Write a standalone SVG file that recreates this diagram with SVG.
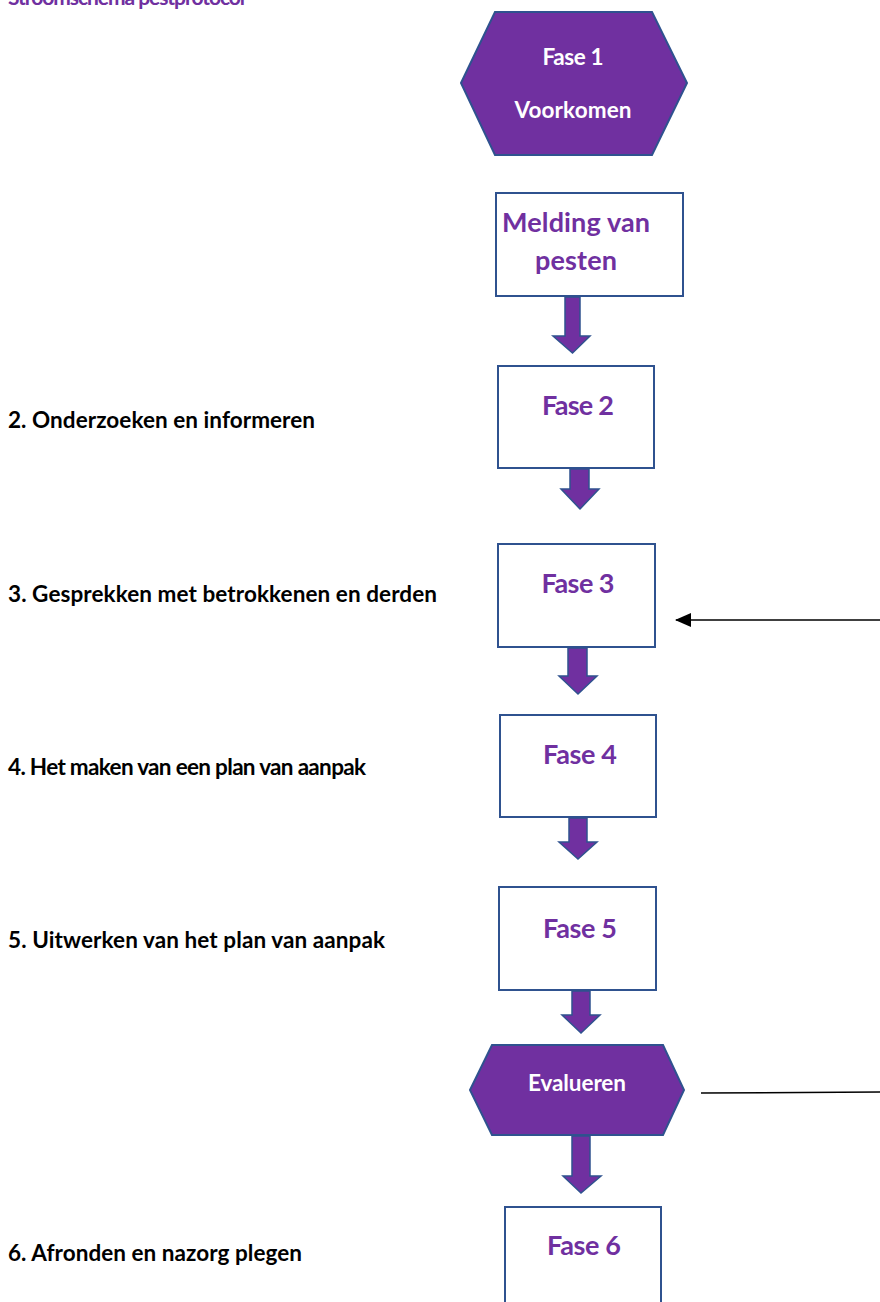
<svg xmlns="http://www.w3.org/2000/svg" width="880" height="1302" viewBox="0 0 880 1302">
<style>
text{font-family:Lato,"Liberation Sans",sans-serif;font-weight:bold}
.lbl{font-size:22.5px;fill:#000}
.ttl{font-size:21px;fill:#7030A0}
.box{fill:#fff;stroke:#2F528F;stroke-width:2}
.hex{fill:#7030A0;stroke:#2F528F;stroke-width:2}
.pt{fill:#7030A0;font-size:27px;text-anchor:middle}
.wt{fill:#fff;font-size:22.5px;text-anchor:middle}
.blk{fill:#7030A0;stroke:#2F528F;stroke-width:1.5}
.ln{stroke:#000;stroke-width:1.5;fill:none}
</style>
<defs>
<marker id="ah" markerWidth="16" markerHeight="14" refX="15" refY="7" orient="auto" markerUnits="userSpaceOnUse">
<path d="M0,0 L16,7 L0,14 Z" fill="#000"/>
</marker>
</defs>
<text class="ttl" x="8" y="5" textLength="237">Stroomschema pestprotocol</text>
<g id="labels">
<text class="lbl" x="8" y="428" textLength="307">2. Onderzoeken en informeren</text>
<text class="lbl" x="8" y="602" textLength="429">3. Gesprekken met betrokkenen en derden</text>
<text class="lbl" x="8" y="775" textLength="358">4. Het maken van een plan van aanpak</text>
<text class="lbl" x="8" y="948" textLength="377">5. Uitwerken van het plan van aanpak</text>
<text class="lbl" x="8" y="1261" textLength="294">6. Afronden en nazorg plegen</text>
</g>
<g id="fase1">
<polygon class="hex" points="461,83 495,12 652,12 687,83 652,155 495,155"/>
<text class="wt" x="573" y="65" textLength="61">Fase 1</text>
<text class="wt" x="573" y="118" textLength="117">Voorkomen</text>
</g>
<g id="melding">
<rect class="box" x="496" y="193" width="187" height="103"/>
<text class="pt" x="576" y="232" textLength="148">Melding van</text>
<text class="pt" x="576" y="270" textLength="82">pesten</text>
</g>
<g id="fase2">
<rect class="box" x="498" y="366" width="156" height="102"/>
<text class="pt" x="578" y="415" textLength="72">Fase 2</text>
</g>
<g id="fase3">
<rect class="box" x="498" y="544" width="157" height="103"/>
<text class="pt" x="578" y="593" textLength="73">Fase 3</text>
</g>
<g id="fase4">
<rect class="box" x="500" y="715" width="156" height="102"/>
<text class="pt" x="580" y="764" textLength="74">Fase 4</text>
</g>
<g id="fase5">
<rect class="box" x="499" y="887" width="157" height="103"/>
<text class="pt" x="580" y="938" textLength="74">Fase 5</text>
</g>
<g id="evalueren">
<polygon class="hex" points="470,1090 492,1045 663,1045 684,1090 663,1135 492,1135"/>
<text class="wt" x="577" y="1091" textLength="98">Evalueren</text>
</g>
<g id="fase6">
<rect class="box" x="505" y="1207" width="156" height="110"/>
<text class="pt" x="584" y="1255" textLength="74">Fase 6</text>
</g>
<g id="connectors">
<path class="blk" d="M565,297 H580 V336 H590 L572.5,353 L553,336 H565 Z"/>
<path class="blk" d="M570,469 H589 V489 H599 L580,509 L561,489 H570 Z"/>
<path class="blk" d="M568,648 H587 V676 H597 L578,694 L559,676 H568 Z"/>
<path class="blk" d="M569,818 H587 V842 H597 L578,859 L559,842 H569 Z"/>
<path class="blk" d="M572,991 H590 V1015 H600 L581,1033 L562,1015 H572 Z"/>
<path class="blk" d="M572,1136 H590 V1176 H601 L581,1193 L563,1176 H572 Z"/>
<line class="ln" x1="880" y1="620" x2="676" y2="620" marker-end="url(#ah)"/>
<line class="ln" x1="701" y1="1093" x2="880" y2="1092"/>
</g>
</svg>
